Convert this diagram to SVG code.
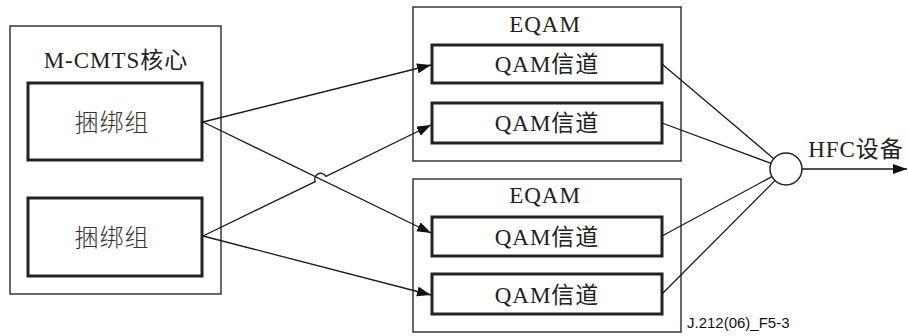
<svg xmlns="http://www.w3.org/2000/svg" width="908" height="336" viewBox="0 0 908 336">
  <style>
    .frame { fill: #fff; stroke: #2a2a2a; stroke-width: 1.4; }
    .box { fill: #fff; stroke: #222; stroke-width: 3; }
    .lbl { font-family: "Liberation Serif", "Noto Sans CJK SC", serif; font-size: 23px; fill: #222; text-anchor: middle; letter-spacing: 1px; }
    .cjk { font-family: "Liberation Serif", "Noto Sans CJK SC", serif; font-size: 24px; font-weight: 300; fill: #333; text-anchor: middle; letter-spacing: 1px; }
    .note { font-family: "Liberation Sans", Arial, sans-serif; font-size: 15px; fill: #111; }
    .wire { fill: none; stroke: #1a1a1a; stroke-width: 1.3; }
  </style>
  <defs>
    <marker id="arrow" markerUnits="userSpaceOnUse" markerWidth="15" markerHeight="11" refX="14" refY="5" orient="auto">
      <path d="M0,0 L14,5 L0,10 z" fill="#111"/>
    </marker>
  </defs>

  <rect width="908" height="336" fill="#fff"/>

  <!-- M-CMTS core with two bonding groups -->
  <g id="mcmts">
    <rect class="frame" x="10" y="26" width="211" height="268"/>
    <text class="lbl" x="116" y="68">M-CMTS核心</text>
  </g>
  <g id="bond1">
    <rect class="box" x="28" y="83" width="174" height="77"/>
    <text class="cjk" x="112" y="131">捆绑组</text>
  </g>
  <g id="bond2">
    <rect class="box" x="28" y="198" width="174" height="78"/>
    <text class="cjk" x="112" y="246">捆绑组</text>
  </g>

  <!-- Upper EQAM -->
  <g id="eqam1">
    <rect class="frame" x="413" y="7" width="268" height="154"/>
    <text class="lbl" x="545" y="32">EQAM</text>
  </g>
  <g id="qam1">
    <rect class="box" x="432" y="45" width="230" height="38"/>
    <text class="lbl" x="547" y="72">QAM信道</text>
  </g>
  <g id="qam2">
    <rect class="box" x="432" y="103" width="230" height="40"/>
    <text class="lbl" x="547" y="131">QAM信道</text>
  </g>

  <!-- Lower EQAM -->
  <g id="eqam2">
    <rect class="frame" x="413" y="179" width="268" height="153"/>
    <text class="lbl" x="545" y="203">EQAM</text>
  </g>
  <g id="qam3">
    <rect class="box" x="432" y="217" width="230" height="39"/>
    <text class="lbl" x="547" y="245">QAM信道</text>
  </g>
  <g id="qam4">
    <rect class="box" x="432" y="274" width="230" height="40"/>
    <text class="lbl" x="547" y="303">QAM信道</text>
  </g>

  <!-- Combiner -->
  <g id="combiner">
    <circle cx="786" cy="169" r="16" fill="#fff" stroke="#222" stroke-width="1.5"/>
  </g>
  <g id="hfc">
    <text class="lbl" x="856" y="157">HFC设备</text>
  </g>

  <g id="connectors">
    <!-- bonding group 1 -->
    <line class="wire" x1="203" y1="122" x2="431" y2="65" marker-end="url(#arrow)"/>
    <line class="wire" x1="203" y1="122" x2="431" y2="233" marker-end="url(#arrow)"/>
    <!-- bonding group 2, hopping over the crossing wire -->
    <path class="wire" d="M203,236 L315.2,181.6 A6,6 0 0 1 326,176.4 L431,125" marker-end="url(#arrow)"/>
    <line class="wire" x1="203" y1="236" x2="431" y2="295" marker-end="url(#arrow)"/>
    <!-- channels into the combiner -->
    <line class="wire" x1="662" y1="64" x2="773.7" y2="158.7"/>
    <line class="wire" x1="662" y1="123" x2="771" y2="163.4"/>
    <line class="wire" x1="662" y1="236" x2="771.9" y2="176.6"/>
    <line class="wire" x1="662" y1="294" x2="775" y2="180.6"/>
    <!-- output -->
    <line class="wire" x1="802" y1="169" x2="907" y2="169" marker-end="url(#arrow)"/>
  </g>

  <text class="note" x="687" y="328">J.212(06)_F5-3</text>
</svg>
